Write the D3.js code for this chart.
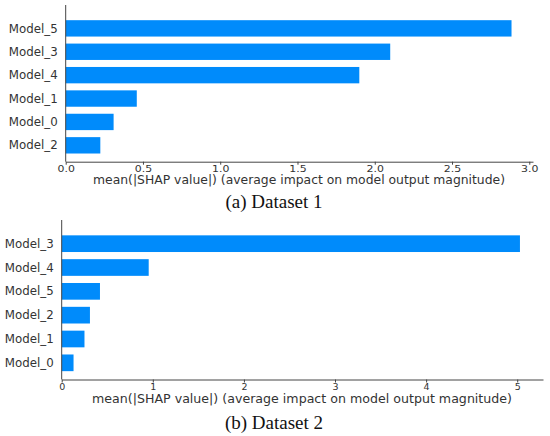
<!DOCTYPE html>
<html>
<head>
<meta charset="utf-8">
<script src="https://cdn.jsdelivr.net/npm/d3@7"></script>
<style>
  body { margin: 0; background: #fff; }
  svg { display: block; }
</style>
</head>
<body>
<svg id="chart" width="550" height="436"></svg>
<script>
// Panel (a) Dataset 1
const categoriesA = ["Model_5", "Model_3", "Model_4", "Model_1", "Model_0", "Model_2"];
const valuesA = [2.885, 2.10, 1.90, 0.46, 0.31, 0.224];
const ticksA = [0.0, 0.5, 1.0, 1.5, 2.0, 2.5, 3.0];
// Panel (b) Dataset 2
const categoriesB = ["Model_3", "Model_4", "Model_5", "Model_2", "Model_1", "Model_0"];
const valuesB = [5.03, 0.955, 0.42, 0.31, 0.25, 0.13];
const ticksB = [0, 1, 2, 3, 4, 5];
const xLabel = "mean(|SHAP value|) (average impact on model output magnitude)";
const captions = ["(a) Dataset 1", "(b) Dataset 2"];

const svg = d3.select("#chart");
const barColor = "#008bfb";
const textColor = "#333333";

function panel(cfg) {
  const g = svg.append("g");
  const x = d3.scaleLinear().domain([0, cfg.xMax]).range([cfg.left, cfg.right]);
  const y = d3.scaleBand().domain(cfg.cats).range([cfg.top, cfg.bottom]).paddingInner(0.3).paddingOuter(0.35);

  g.selectAll("rect.bar").data(cfg.cats).enter().append("rect")
    .attr("class", "bar")
    .attr("x", x(0))
    .attr("y", d => y(d))
    .attr("width", (d, i) => x(cfg.vals[i]) - x(0))
    .attr("height", y.bandwidth())
    .attr("fill", barColor);

  // y labels
  g.selectAll("text.ylab").data(cfg.cats).enter().append("text")
    .attr("class", "ylab")
    .attr("x", x(0) - 8)
    .attr("y", d => y(d) + y.bandwidth() / 2)
    .attr("dy", "0.35em")
    .attr("text-anchor", "end")
    .attr("font-family", "DejaVu Sans")
    .attr("font-size", 11.8)
    .attr("fill", textColor)
    .text(d => d);

  // left spine
  g.append("line")
    .attr("x1", x(0)).attr("x2", x(0))
    .attr("y1", cfg.axisTop).attr("y2", cfg.bottom)
    .attr("stroke", "#444").attr("stroke-width", 1);

  // x axis
  const axis = d3.axisBottom(x).tickValues(cfg.ticks).tickFormat(cfg.fmt).tickSize(3).tickSizeOuter(0);
  const ax = g.append("g").attr("transform", `translate(0,${cfg.bottom})`).call(axis);
  ax.select(".domain").attr("stroke", "#444");
  ax.selectAll(".tick line").attr("stroke", "#444");
  ax.selectAll(".tick text")
    .attr("font-family", "DejaVu Sans")
    .attr("font-size", cfg.tickFont)
    .attr("fill", textColor)
    .attr("y", 10)
    .attr("dy", 0)
    .each(function () {
      const w = this.getComputedTextLength();
      d3.select(this).attr("textLength", w * cfg.tickStretch).attr("lengthAdjust", "spacingAndGlyphs");
    });

  g.append("text")
    .attr("x", cfg.labelCenter)
    .attr("y", cfg.bottom + cfg.labelOffset)
    .attr("text-anchor", "middle")
    .attr("font-family", "DejaVu Sans")
    .attr("font-size", 11.5)
    .attr("textLength", cfg.labelWidth)
    .attr("lengthAdjust", "spacingAndGlyphs")
    .attr("fill", textColor)
    .text(xLabel);

  svg.append("text")
    .attr("x", 274)
    .attr("y", cfg.captionY)
    .attr("text-anchor", "middle")
    .attr("font-family", "Liberation Serif")
    .attr("font-size", 19)
    .attr("fill", "#111")
    .text(cfg.caption);
}

panel({
  cats: categoriesA, vals: valuesA, ticks: ticksA, fmt: d3.format(".1f"),
  xMax: 3.024, left: 65.7, right: 533,
  top: 12, bottom: 161.7, axisTop: 5, tickFont: 9.5, tickStretch: 1.15,
  labelCenter: 299, labelWidth: 412, labelOffset: 22.3, captionY: 208, caption: captions[0]
});

panel({
  cats: categoriesB, vals: valuesB, ticks: ticksB, fmt: d3.format("d"),
  xMax: 5.283, left: 61.7, right: 543,
  top: 227, bottom: 379.5, axisTop: 220, tickFont: 9.5, tickStretch: 1.0,
  labelCenter: 302, labelWidth: 420, labelOffset: 23.5, captionY: 429, caption: captions[1]
});
</script>
</body>
</html>
